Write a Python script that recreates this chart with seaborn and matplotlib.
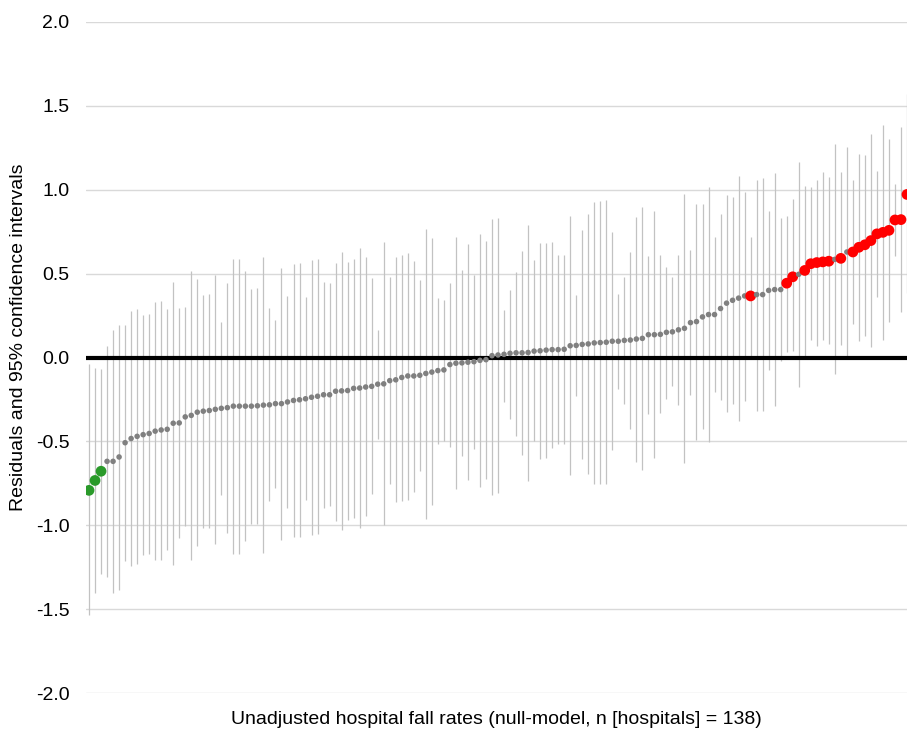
import numpy as np
import pandas as pd
import matplotlib
matplotlib.use("Agg")
import matplotlib.pyplot as plt
import seaborn as sns

# Residuals (sorted) per hospital
residual = [
    -0.792, -0.733, -0.678, -0.619, -0.619, -0.593, -0.508, -0.483, -0.470, -0.460,
    -0.453, -0.439, -0.432, -0.428, -0.392, -0.390, -0.354, -0.345, -0.326, -0.320,
    -0.316, -0.309, -0.303, -0.299, -0.290, -0.290, -0.290, -0.290, -0.288, -0.284,
    -0.282, -0.275, -0.275, -0.265, -0.256, -0.252, -0.246, -0.237, -0.231, -0.222,
    -0.222, -0.201, -0.199, -0.197, -0.184, -0.182, -0.176, -0.172, -0.159, -0.157,
    -0.138, -0.133, -0.119, -0.110, -0.110, -0.106, -0.095, -0.087, -0.078, -0.074,
    -0.042, -0.034, -0.032, -0.028, -0.025, -0.017, -0.013, 0.011, 0.015, 0.019,
    0.025, 0.028, 0.028, 0.030, 0.038, 0.040, 0.044, 0.047, 0.047, 0.049,
    0.070, 0.072, 0.078, 0.081, 0.087, 0.089, 0.091, 0.097, 0.097, 0.102,
    0.104, 0.110, 0.114, 0.136, 0.136, 0.138, 0.150, 0.153, 0.165, 0.174,
    0.208, 0.214, 0.242, 0.256, 0.256, 0.292, 0.324, 0.341, 0.354, 0.367,
    0.367, 0.375, 0.375, 0.400, 0.405, 0.405, 0.443, 0.481, 0.496, 0.519,
    0.559, 0.566, 0.570, 0.574, 0.585, 0.591, 0.629, 0.629, 0.657, 0.672,
    0.697, 0.737, 0.746, 0.758, 0.820, 0.822, 0.972, 1.050,
]

ci_upper = [
    -0.040, -0.061, -0.066, 0.070, 0.165, 0.195, 0.195, 0.275, 0.292, 0.254,
    0.261, 0.331, 0.337, 0.292, 0.453, 0.297, 0.299, 0.515, 0.468, 0.375,
    0.381, 0.492, 0.214, 0.445, 0.587, 0.587, 0.515, 0.411, 0.415, 0.602,
    0.294, 0.225, 0.534, 0.369, 0.559, 0.564, 0.362, 0.583, 0.589, 0.449,
    0.447, 0.566, 0.631, 0.570, 0.589, 0.653, 0.600, 0.475, 0.165, 0.689,
    0.481, 0.597, 0.614, 0.623, 0.578, 0.464, 0.765, 0.710, 0.356, 0.343,
    0.443, 0.718, 0.521, 0.676, 0.494, 0.737, 0.693, 0.824, 0.831, 0.284,
    0.400, 0.511, 0.633, 0.790, 0.581, 0.680, 0.682, 0.689, 0.610, 0.610,
    0.843, 0.373, 0.758, 0.854, 0.928, 0.934, 0.936, 0.748, 0.381, 0.479,
    0.631, 0.839, 0.900, 0.604, 0.873, 0.610, 0.542, 0.479, 0.610, 0.972,
    0.638, 0.917, 0.913, 1.015, 0.720, 0.856, 0.968, 0.958, 1.083, 0.985,
    0.720, 1.059, 1.068, 0.871, 1.097, 0.833, 0.845, 0.945, 1.165, 1.025,
    1.019, 1.057, 1.104, 1.074, 1.275, 1.104, 1.256, 1.057, 1.212, 1.206,
    1.331, 1.114, 1.388, 1.305, 1.032, 1.375, 1.568, 1.700,
]

ci_lower = [
    -1.534, -1.403, -1.290, -1.307, -1.403, -1.386, -1.216, -1.244, -1.231, -1.176,
    -1.169, -1.205, -1.205, -1.146, -1.239, -1.076, -1.006, -1.205, -1.125, -1.015,
    -1.019, -1.112, -0.818, -1.049, -1.172, -1.172, -1.095, -0.992, -0.992, -1.167,
    -0.858, -0.778, -1.085, -0.898, -1.072, -1.068, -0.852, -1.057, -1.053, -0.896,
    -0.888, -0.972, -1.030, -0.966, -0.955, -1.019, -0.947, -0.816, -0.485, -0.996,
    -0.756, -0.864, -0.854, -0.847, -0.803, -0.676, -0.960, -0.879, -0.515, -0.496,
    -0.532, -0.786, -0.587, -0.733, -0.544, -0.771, -0.722, -0.818, -0.809, -0.265,
    -0.364, -0.466, -0.583, -0.739, -0.498, -0.604, -0.597, -0.538, -0.515, -0.515,
    -0.703, -0.231, -0.606, -0.697, -0.756, -0.752, -0.752, -0.551, -0.189, -0.278,
    -0.426, -0.621, -0.669, -0.337, -0.602, -0.331, -0.246, -0.172, -0.284, -0.627,
    -0.225, -0.492, -0.426, -0.504, -0.208, -0.254, -0.324, -0.280, -0.377, -0.258,
    0.011, -0.318, -0.316, -0.072, -0.292, -0.021, 0.034, 0.040, -0.178, 0.011,
    0.102, 0.070, 0.104, 0.078, -0.100, 0.074, -0.005, 0.199, 0.097, 0.131,
    0.061, 0.358, 0.102, 0.214, 0.604, 0.273, 0.386, 0.400,
]

y_ticks = [2.0, 1.5, 1.0, 0.5, 0.0, -0.5, -1.0, -1.5, -2.0]
y_label = "Residuals and 95% confidence intervals"
x_label = "Unadjusted hospital fall rates (null-model, n [hospitals] = 138)"

df = pd.DataFrame({"resid": residual, "lo": ci_lower, "hi": ci_upper})
df["hospital"] = np.arange(len(df))
df["group"] = np.where(df["hi"] < 0, "below", np.where(df["lo"] > 0, "above", "ns"))

sns.set_theme(style="white")
plt.rcParams["font.family"] = ["Liberation Sans", "DejaVu Sans"]
plt.rcParams["axes.unicode_minus"] = False

fig = plt.figure(figsize=(9.07, 7.33), dpi=100)
ax = fig.add_axes([86 / 907, 40 / 733, (907 - 86) / 907, 671 / 733])

ax.vlines(df["hospital"], df["lo"], df["hi"], color="#c2c2c2", linewidth=0.9, zorder=2)
ax.axhline(0, color="black", linewidth=3.0, zorder=3)

sns.scatterplot(
    data=df, x="hospital", y="resid", hue="group", size="group",
    palette={"ns": "#808080", "above": "#ff0000", "below": "#2a9a2a"},
    sizes={"ns": 16, "above": 60, "below": 60},
    linewidth=0, legend=False, ax=ax, zorder=4,
)

ax.set_xlim(-0.5, len(df) - 2)
ax.set_ylim(-2.0, 2.0)
ax.set_yticks(y_ticks)
ax.set_yticklabels([f"{t:.1f}" for t in y_ticks])
ax.set_xticks([])
ax.grid(axis="y", color="#d9d9d9", linewidth=1.0, zorder=0)
ax.set_axisbelow(True)
for s in ax.spines.values():
    s.set_visible(False)
ax.tick_params(axis="y", length=0, pad=12, labelsize=14, labelcolor="black")
ax.set_ylabel(y_label, fontsize=14, color="black")
ax.yaxis.set_label_coords(-0.072, 0.53)
ax.set_xlabel(x_label, fontsize=14, color="black", labelpad=13)

fig.savefig("out.png", dpi=100)
